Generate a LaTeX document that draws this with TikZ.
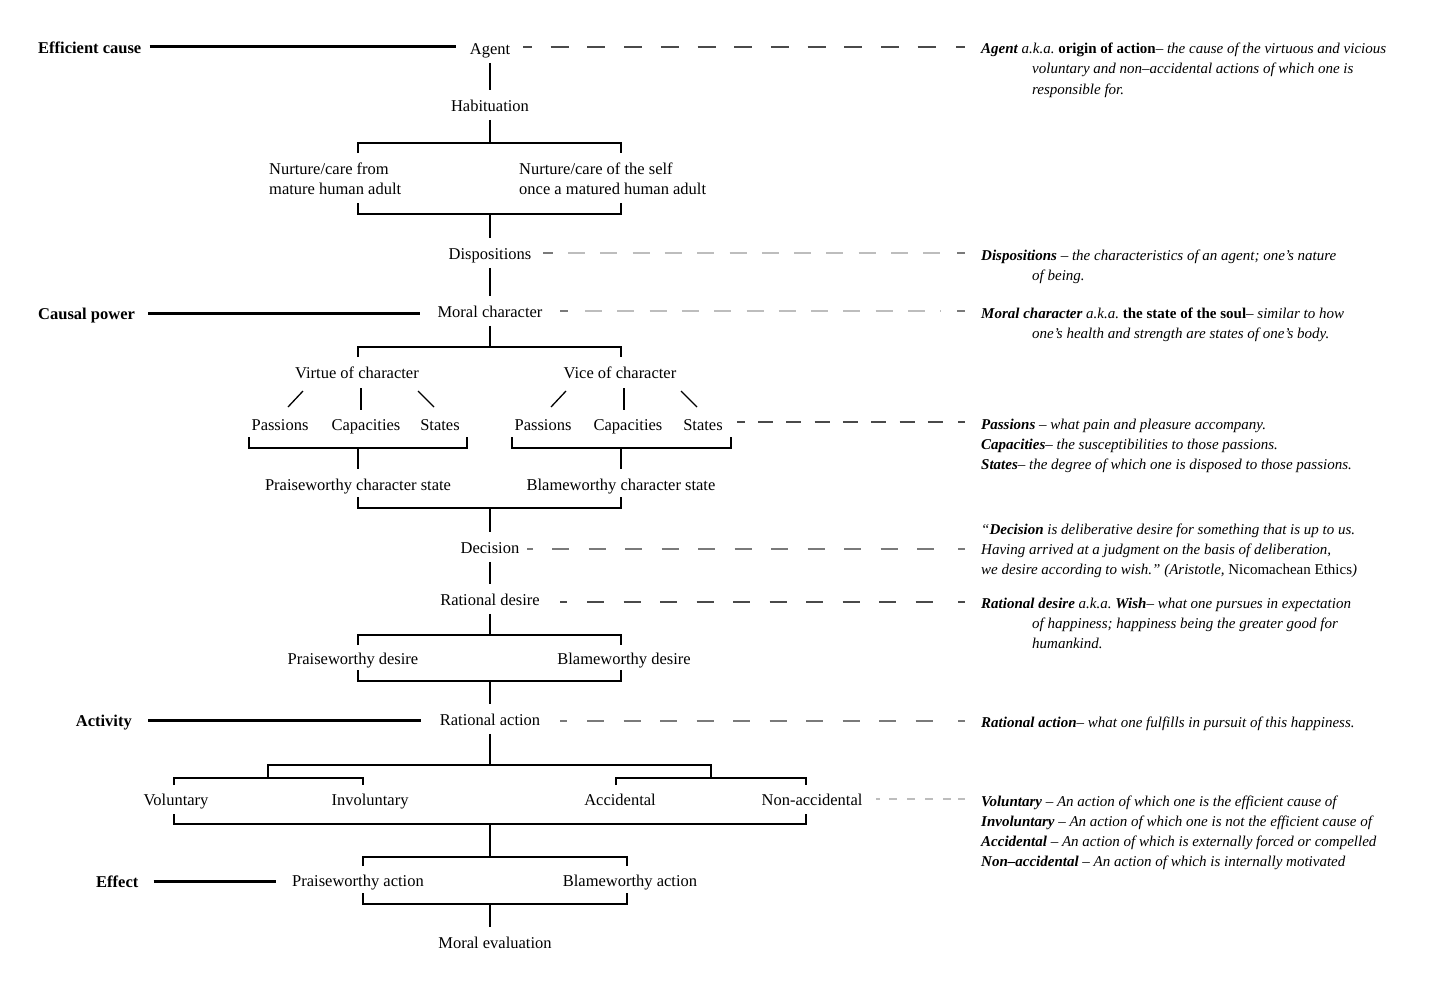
\documentclass[tikz,border=0pt]{standalone}
\usepackage{fontspec}
\setmainfont{Liberation Serif}
\definecolor{dk}{HTML}{4A4A4A}
\definecolor{md}{HTML}{7A7A7A}
\definecolor{lt}{HTML}{BDBDBD}
\begin{document}
\begin{tikzpicture}[x=1pt,y=-1pt,
  every node/.style={inner sep=0pt},
  txt/.style={font=\fontsize{16.5}{20}\selectfont, text height=14pt, text depth=1.5pt, inner ysep=7pt, inner xsep=2pt},
  txtl/.style={font=\fontsize{16.5}{20}\selectfont, anchor=base west},
  side/.style={font=\fontsize{16.5}{20}\selectfont\bfseries, text height=14pt, text depth=1.5pt},
  ann/.style={font=\fontsize{15}{20}\selectfont\itshape, anchor=base west},
  conn/.style={line width=1.3pt, black},
  thk/.style={line width=3pt, black},
  lead/.style={line width=1.3pt}
]
\useasboundingbox[fill=white] (0,0) rectangle (1430,990);

% ---------- main column nodes ----------
\node[txt] (agent) at (490,48) {Agent};
\node[txt] (hab) at (490,105) {Habituation};
\node[txtl] (nl1) at (269,174) {Nurture/care from};
\node[txtl] (nl2) at (269,194) {mature human adult};
\node[txtl] (nr1) at (519,174) {Nurture/care of the self};
\node[txtl] (nr2) at (519,194) {once a matured human adult};
\node[txt] (disp) at (490,253) {Dispositions};
\node[txt] (moral) at (490,311) {Moral character};
\node[txt] (virtue) at (357,372) {Virtue of character};
\node[txt] (vice) at (620,372) {Vice of character};
\node[txt] (pasL) at (280,424) {Passions};
\node[txt] (capL) at (366,424) {Capacities};
\node[txt] (staL) at (440,424) {States};
\node[txt] (pasR) at (543,424) {Passions};
\node[txt] (capR) at (628,424) {Capacities};
\node[txt] (staR) at (703,424) {States};
\node[txt] (pcs) at (358,484) {Praiseworthy character state};
\node[txt] (bcs) at (621,484) {Blameworthy character state};
\node[txt] (decision) at (490,547) {Decision};
\node[txt] (rdes) at (490,599) {Rational desire};
\node[txt] (pdes) at (353,658) {Praiseworthy desire};
\node[txt] (bdes) at (624,658) {Blameworthy desire};
\node[txt] (ract) at (490,719) {Rational action};
\node[txt] (vol) at (176,799) {Voluntary};
\node[txt] (invol) at (370,799) {Involuntary};
\node[txt] (acc) at (620,799) {Accidental};
\node[txt] (nonacc) at (812,799) {Non-accidental};
\node[txt] (pact) at (358,880) {Praiseworthy action};
\node[txt] (bact) at (630,880) {Blameworthy action};
\node[txt] (meval) at (495,942) {Moral evaluation};

% ---------- side labels ----------
\node[side, anchor=west] (ec) at (38,47) {Efficient cause};
\node[side, anchor=west] (cp) at (38,313) {Causal power};
\node[side, anchor=east] (act) at (132,720) {Activity};
\node[side, anchor=west] (eff) at (96,881) {Effect};

\draw[thk] ([xshift=8pt]ec.east) -- ([xshift=-12pt]ec.east -| agent.west);
\draw[thk] ([xshift=13pt]cp.east) -- ([xshift=-15pt]cp.east -| moral.west);
\draw[thk] ([xshift=16pt]act.east) -- ([xshift=-17pt]act.east -| ract.west);
\draw[thk] ([xshift=15pt]eff.east) -- ([xshift=-14pt]eff.east -| pact.west);

% ---------- tree connectors ----------
\draw[conn] (agent) -- (hab);
\coordinate (j1) at (490,143);
\draw[conn] (hab) -- (j1);
\draw[conn] (358,153) -- (358,143) -- (621,143) -- (621,153);
\draw[conn] (358,203) -- (358,214) -- (621,214) -- (621,203);
\coordinate (j2) at (490,214);
\draw[conn] (j2) -- (disp);
\draw[conn] (disp) -- (moral);
\coordinate (j3) at (490,347);
\draw[conn] (moral) -- (j3);
\draw[conn] (358,357) -- (358,347) -- (621,347) -- (621,357);
% slashes
\draw[conn] (303,391) -- (288,407);
\draw[conn] (361,388) -- (361,410);
\draw[conn] (418,391) -- (434,407);
\draw[conn] (566,391) -- (551,407);
\draw[conn] (624,388) -- (624,410);
\draw[conn] (681,391) -- (697,407);
% triple brackets
\draw[conn] (249,437) -- (249,448) -- (467,448) -- (467,437);
\draw[conn] (512,437) -- (512,448) -- (731,448) -- (731,437);
\coordinate (j4) at (358,448);
\coordinate (j5) at (621,448);
\draw[conn] (j4) -- (pcs);
\draw[conn] (j5) -- (bcs);
\draw[conn] (358,497) -- (358,508) -- (621,508) -- (621,497);
\coordinate (j6) at (490,508);
\draw[conn] (j6) -- (decision);
\draw[conn] (decision) -- (rdes);
\coordinate (j7) at (490,635);
\draw[conn] (rdes) -- (j7);
\draw[conn] (358,645) -- (358,635) -- (621,635) -- (621,645);
\draw[conn] (358,670) -- (358,681) -- (621,681) -- (621,670);
\coordinate (j8) at (490,681);
\draw[conn] (j8) -- (ract);
\coordinate (j9) at (490,765);
\draw[conn] (ract) -- (j9);
\draw[conn] (268,778) -- (268,765) -- (711,765) -- (711,778);
\draw[conn] (174,785) -- (174,778) -- (363,778) -- (363,785);
\draw[conn] (616,785) -- (616,778) -- (806,778) -- (806,785);
\draw[conn] (174,814) -- (174,824) -- (806,824) -- (806,814);
\coordinate (j10) at (490,824);
\coordinate (j11) at (490,857);
\draw[conn] (j10) -- (j11);
\draw[conn] (363,866) -- (363,857) -- (627,857) -- (627,866);
\draw[conn] (363,893) -- (363,904) -- (627,904) -- (627,893);
\coordinate (j12) at (490,904);
\draw[conn] (j12) -- (j12 |- meval.north);

% ---------- annotations ----------
\node[ann] (aAgent) at (981,54) {\textbf{Agent} a.k.a.\ \textbf{\upshape origin of action}-- the cause of the virtuous and vicious};
\node[ann] at (1032,74) {voluntary and non--accidental actions of which one is};
\node[ann] at (1032,94) {responsible for.};
\node[ann] (aDisp) at (981,260) {\textbf{Dispositions} -- the characteristics of an agent; one’s nature};
\node[ann] at (1032,280) {of being.};
\node[ann] (aMoral) at (981,318) {\textbf{Moral character} a.k.a.\ \textbf{\upshape the state of the soul}-- similar to how};
\node[ann] at (1032,338) {one’s health and strength are states of one’s body.};
\node[ann] (aPas) at (981,429) {\textbf{Passions} -- what pain and pleasure accompany.};
\node[ann] at (981,449) {\textbf{Capacities}-- the susceptibilities to those passions.};
\node[ann] at (981,469) {\textbf{States}-- the degree of which one is disposed to those passions.};
\node[ann] at (981,534) {“\textbf{Decision} is deliberative desire for something that is up to us.};
\node[ann] (aDec) at (981,554) {Having arrived at a judgment on the basis of deliberation,};
\node[ann] at (981,574) {we desire according to wish.”\ (Aristotle, {\upshape Nicomachean Ethics})};
\node[ann] (aRdes) at (981,608) {\textbf{Rational desire} a.k.a.\ \textbf{Wish}-- what one pursues in expectation};
\node[ann] at (1032,628) {of happiness; happiness being the greater good for};
\node[ann] at (1032,648) {humankind.};
\node[ann] (aRact) at (981,727) {\textbf{Rational action}-- what one fulfills in pursuit of this happiness.};
\node[ann] (aVol) at (981,806) {\textbf{Voluntary} -- An action of which one is the efficient cause of};
\node[ann] at (981,826) {\textbf{Involuntary} -- An action of which one is not the efficient cause of};
\node[ann] at (981,846) {\textbf{Accidental} -- An action of which is externally forced or compelled};
\node[ann] at (981,866) {\textbf{Non--accidental} -- An action of which is internally motivated};

% ---------- leader lines ----------
% Agent
\draw[lead,dk,dash pattern=on 18pt off 18.7pt,dash phase=9pt] (523,47) -- (938,47);
\draw[lead,dk] (956,47) -- (965,47);
% Dispositions
\draw[lead,md] (543,253) -- (553,253);
\draw[lead,lt,dash pattern=on 17pt off 15.3pt] (568,253) -- (941,253);
\draw[lead,md] (957,253) -- (965,253);
% Moral character
\draw[lead,md] (560,311) -- (568,311);
\draw[lead,lt,dash pattern=on 17pt off 15.3pt] (585,311) -- (941,311);
\draw[lead,md] (957,311) -- (965,311);
% States
\draw[lead,dk] (737,422) -- (745,422);
\draw[lead,dk,dash pattern=on 15pt off 13.3pt] (758,422) -- (943,422);
\draw[lead,dk] (958,422) -- (965,422);
% Decision
\draw[lead,md] (527,549) -- (533,549);
\draw[lead,md,dash pattern=on 17pt off 19.5pt] (552,549) -- (945,549);
\draw[lead,md] (958,549) -- (965,549);
% Rational desire
\draw[lead,dk] (560,602) -- (567,602);
\draw[lead,dk,dash pattern=on 17pt off 19.5pt] (587,602) -- (945,602);
\draw[lead,dk] (958,602) -- (965,602);
% Rational action
\draw[lead,md] (560,721) -- (567,721);
\draw[lead,md,dash pattern=on 17pt off 19.5pt] (587,721) -- (945,721);
\draw[lead,md] (958,721) -- (965,721);
% Non-accidental
\draw[lead,lt] (876,799) -- (880,799);
\draw[lead,lt,dash pattern=on 8pt off 10pt] (889,799) -- (952,799);
\draw[lead,lt] (958,799) -- (965,799);
\end{tikzpicture}
\end{document}
